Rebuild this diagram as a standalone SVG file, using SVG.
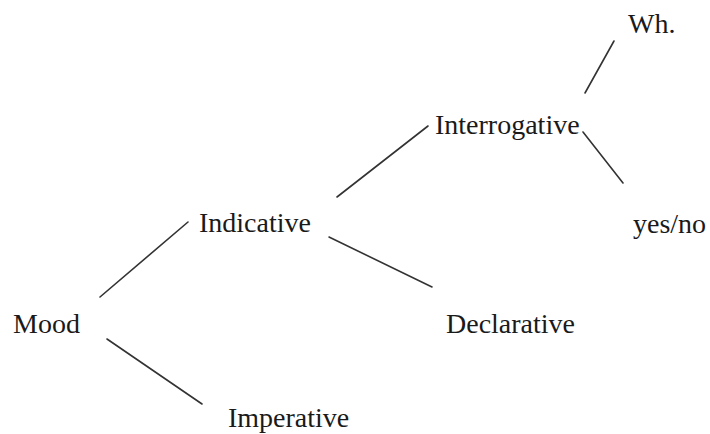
<svg xmlns="http://www.w3.org/2000/svg" width="710" height="434" viewBox="0 0 710 434">
<style>
text{font-family:"Liberation Serif","Times New Roman",serif;font-size:28px;fill:#1a1a1a}
.c line{stroke:#333;stroke-width:1.6;stroke-linecap:round}
</style>
<rect width="710" height="434" fill="#fff"/>
<g class="c" id="connectors">
<line x1="100" y1="297" x2="188" y2="222"/>
<line x1="107" y1="339" x2="202" y2="404"/>
<line x1="337" y1="197" x2="428" y2="126"/>
<line x1="329" y1="237" x2="432" y2="287"/>
<line x1="585" y1="93" x2="614" y2="41"/>
<line x1="583" y1="132" x2="623" y2="183"/>
</g>
<g id="mood"><text x="13" y="333">Mood</text></g>
<g id="indicative"><text x="199" y="232">Indicative</text></g>
<g id="imperative"><text x="228" y="427">Imperative</text></g>
<g id="interrogative"><text x="435" y="134">Interrogative</text></g>
<g id="declarative"><text x="446" y="333">Declarative</text></g>
<g id="wh"><text x="628" y="33">Wh.</text></g>
<g id="yesno"><text x="633" y="233">yes/no</text></g>
</svg>
